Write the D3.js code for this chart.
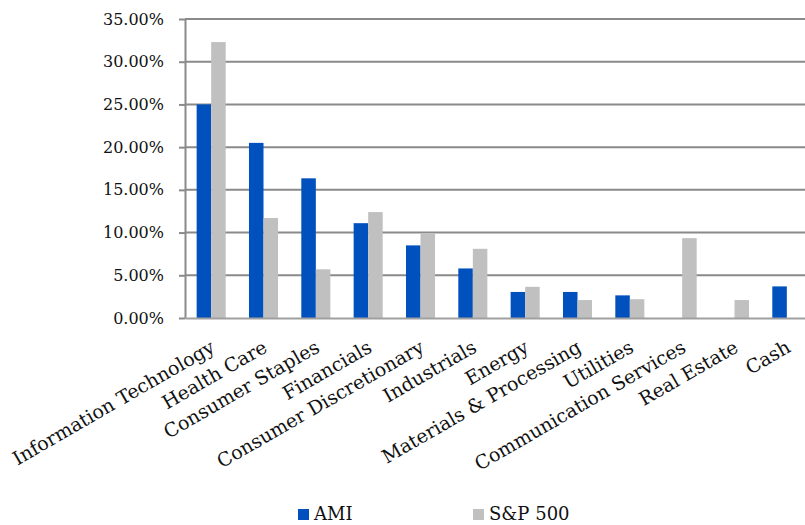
<!DOCTYPE html>
<html>
<head>
  <meta charset="utf-8">
  <script src="https://d3js.org/d3.v7.min.js"></script>
  <style>
    body { margin: 0; background: #fff; }
  </style>
</head>
<body>
  <svg id="chart" width="805" height="525"></svg>
  <script>
    const sectors = ["Information Technology", "Health Care", "Consumer Staples", "Financials",
      "Consumer Discretionary", "Industrials", "Energy", "Materials & Processing", "Utilities",
      "Communication Services", "Real Estate", "Cash"];
    const ami = [25.0, 20.5, 16.35, 11.1, 8.5, 5.8, 3.05, 3.05, 2.65, 0, 0, 3.7];
    const sp500 = [32.3, 11.7, 5.7, 12.4, 9.9, 8.1, 3.65, 2.1, 2.2, 9.35, 2.1, 0];
    const seriesNames = ["AMI", "S&P 500"];
    const yTicks = [0, 5, 10, 15, 20, 25, 30, 35];

    const colors = ["#0050be", "#c0c0c0"];
    const font = "'DejaVu Serif', 'Liberation Serif', serif";
    const svg = d3.select("#chart");
    const plotLeft = 185, plotRight = 813, plotTop = 19, plotBottom = 318;

    const x = d3.scaleBand().domain(sectors).range([plotLeft, plotRight]).paddingInner(0.445).paddingOuter(0.2225);
    const xs = d3.scaleBand().domain(seriesNames).range([0, x.bandwidth()]);
    const y = d3.scaleLinear().domain([0, 35]).range([plotBottom, plotTop]);

    // gridlines
    svg.append("g")
      .selectAll("line").data(yTicks.filter(d => d > 0))
      .join("line")
      .attr("x1", plotLeft).attr("x2", plotRight)
      .attr("y1", d => y(d)).attr("y2", d => y(d))
      .attr("stroke", "#8a8a8a").attr("stroke-width", 2);

    const rows = sectors.map((s, i) => ({ sector: s, values: [ami[i], sp500[i]] }));

    svg.append("g")
      .selectAll("g").data(rows)
      .join("g")
      .attr("transform", d => `translate(${x(d.sector)},0)`)
      .selectAll("rect").data(d => d.values.map((v, j) => ({ key: seriesNames[j], v, j })))
      .join("rect")
      .attr("x", d => xs(d.key))
      .attr("width", xs.bandwidth())
      .attr("y", d => y(d.v))
      .attr("height", d => y(0) - y(d.v))
      .attr("fill", d => colors[d.j]);

    // y axis
    const yAxis = svg.append("g")
      .attr("transform", `translate(${plotLeft},0)`)
      .call(d3.axisLeft(y).tickValues(yTicks).tickSize(6).tickSizeOuter(0)
        .tickFormat(d => d3.format(".2f")(d) + "%"));
    yAxis.select(".domain").attr("stroke", "#8a8a8a").attr("stroke-width", 2);
    yAxis.selectAll(".tick line").attr("stroke", "#8a8a8a").attr("stroke-width", 2);
    yAxis.selectAll(".tick text").attr("x", -21).attr("fill", "#111")
      .style("font-family", font).style("font-size", "16px");

    // x axis baseline
    const xAxis = svg.append("g")
      .attr("transform", `translate(0,${plotBottom})`)
      .call(d3.axisBottom(x).tickSize(0).tickSizeOuter(0));
    xAxis.select(".domain").attr("stroke", "#a0a0a0").attr("stroke-width", 2);
    xAxis.selectAll(".tick text")
      .attr("fill", "#111")
      .style("font-family", font)
      .style("font-size", "19px")
      .attr("text-anchor", "end")
      .attr("dy", 0)
      .attr("y", 0)
      .attr("transform", "translate(5,33) rotate(-30)");

    // legend
    const legend = svg.append("g").attr("transform", "translate(298,520)");
    const items = legend.selectAll("g").data(seriesNames)
      .join("g")
      .attr("transform", (d, i) => `translate(${i * 175},0)`);
    items.append("rect")
      .attr("x", 0).attr("y", -11).attr("width", 11).attr("height", 11)
      .attr("fill", (d, i) => colors[i]);
    items.append("text")
      .attr("x", 16).attr("y", 0)
      .attr("fill", "#111")
      .style("font-family", font)
      .style("font-size", "18px")
      .text(d => d);
  </script>
</body>
</html>
